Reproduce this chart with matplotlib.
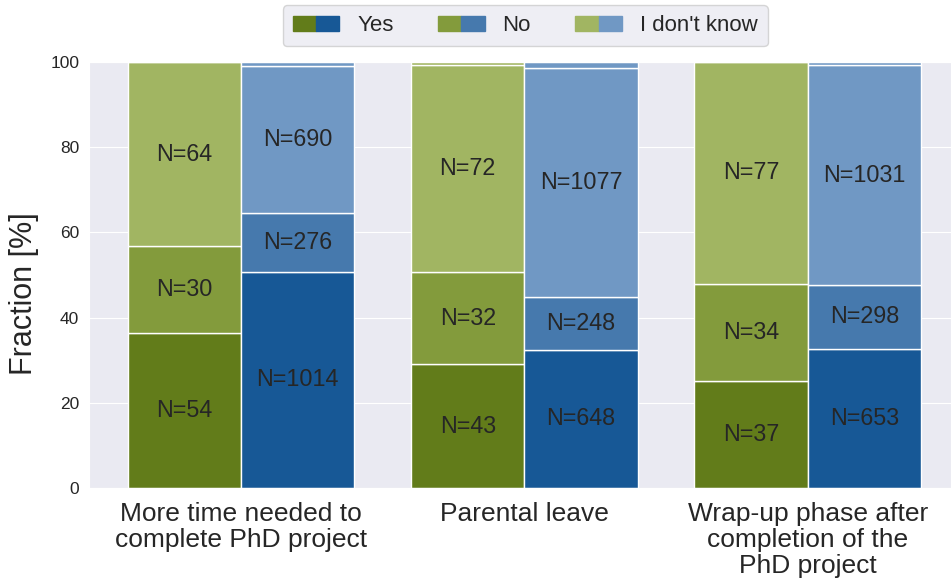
import numpy as np
import matplotlib
matplotlib.use("Agg")
import matplotlib.pyplot as plt
import seaborn as sns
from matplotlib.patches import Patch
from matplotlib.legend_handler import HandlerTuple

sns.set_style("darkgrid")
plt.rcParams['font.family'] = ['Liberation Sans', 'DejaVu Sans']

# counts (left bar = green group, right bar = blue group)
categories = ["More time needed to\ncomplete PhD project",
              "Parental leave",
              "Wrap-up phase after\ncompletion of the\nPhD project"]
answers = ["Yes", "No", "I don't know"]

green_yes = [54, 43, 37]
green_no = [30, 32, 34]
green_dk = [64, 72, 77]
green_na = [0, 1, 0]      # thin unlabeled slice on top

blue_yes = [1014, 648, 653]
blue_no = [276, 248, 298]
blue_dk = [690, 1077, 1031]
blue_na = [19, 26, 16]    # thin unlabeled slice on top

green_colors = ["#627c1a", "#839b3c", "#a1b562"]
blue_colors = ["#175896", "#4679ad", "#7098c4"]

fig = plt.figure(figsize=(9.51, 5.85), dpi=100)
ax = fig.add_axes([0.0936, 0.166, 0.9064, 0.728])

x = np.arange(len(categories))
width = 0.4


def draw_stack(xpos, parts, extra, colors):
    parts = np.array(parts, dtype=float)
    extra = np.array(extra, dtype=float)
    total = parts.sum(axis=0) + extra
    bottom = np.zeros(len(total))
    for i, (vals, col) in enumerate(zip(parts, colors)):
        frac = vals / total * 100
        ax.bar(xpos, frac, width, bottom=bottom, color=col,
               edgecolor="white", linewidth=1)
        for xx, b, f, n in zip(xpos, bottom, frac, vals):
            ax.text(xx, b + f / 2, f"N={int(n)}", ha="center", va="center",
                    fontsize=16.8, color="#262626")
        bottom = bottom + frac
    frac = extra / total * 100
    ax.bar(xpos, frac, width, bottom=bottom, color=colors[-1],
           edgecolor="white", linewidth=1)


draw_stack(x - width / 2, [green_yes, green_no, green_dk], green_na, green_colors)
draw_stack(x + width / 2, [blue_yes, blue_no, blue_dk], blue_na, blue_colors)

ax.set_xlim(-0.536, 2.505)
ax.set_ylim(0, 100)
ax.set_xticks(x)
ax.set_xticklabels(categories, fontsize=19, linespacing=1.1)
ax.tick_params(axis="y", labelsize=12.5)
ax.tick_params(axis="x", pad=7)
ax.set_ylabel("Fraction [%]", fontsize=22)
ax.yaxis.set_label_coords(-0.058, 0.455)
ax.xaxis.grid(False)

handles = [(Patch(color=g), Patch(color=b)) for g, b in zip(green_colors, blue_colors)]
ax.legend(handles, answers, handler_map={tuple: HandlerTuple(ndivide=None, pad=0)},
          loc="lower center", bbox_to_anchor=(0.506, 1.037), ncol=3, fontsize=16,
          handlelength=2.1, handleheight=0.65, handletextpad=0.8, columnspacing=2.0,
          borderpad=0.45, borderaxespad=0, frameon=True)

fig.savefig("out.png", dpi=100)
